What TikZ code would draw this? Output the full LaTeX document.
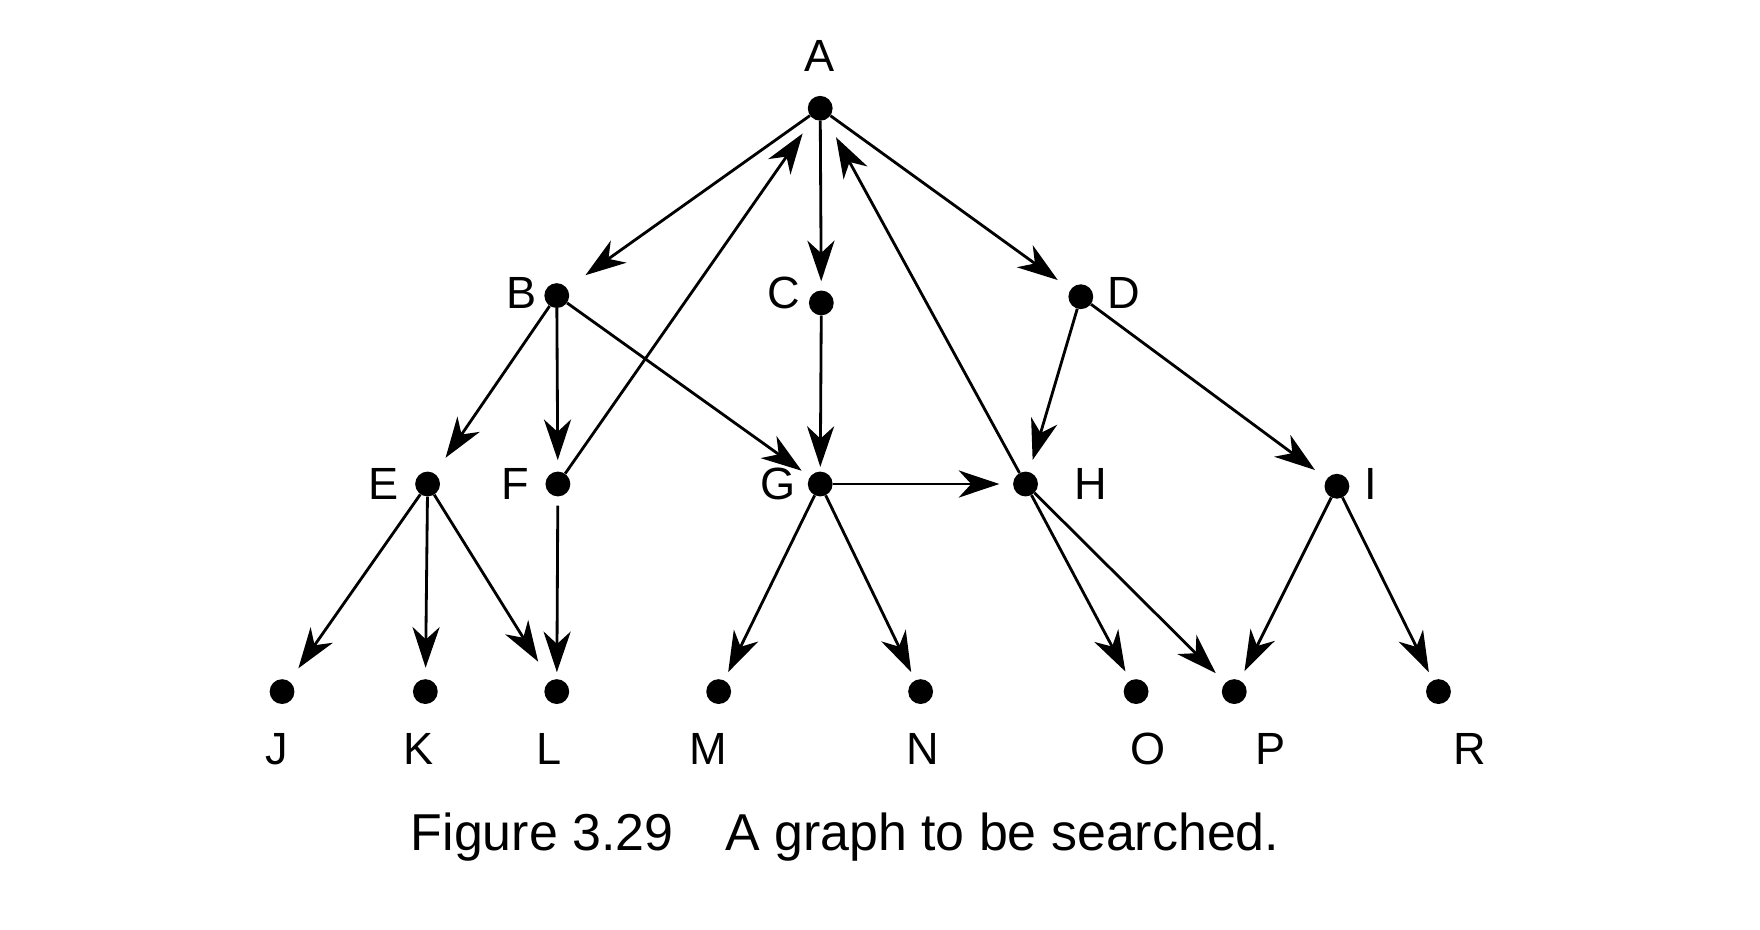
\documentclass[tikz,border=0pt]{standalone}
\usepackage{fontspec}
\setmainfont{Liberation Sans}
\usetikzlibrary{arrows.meta}
\tikzset{
  dot/.style={circle,fill=black,inner sep=0pt,minimum size=22pt},
  lab/.style={font=\fontsize{40}{40}\selectfont,anchor=base,inner sep=0pt},
  edge/.style={line width=2.5pt,-{Stealth[length=36pt,width=24pt,inset=11pt]}},
}
\begin{document}
\begin{tikzpicture}[x=1pt,y=-1pt]
\fill[white] (0,0) rectangle (1560,824.3);
\useasboundingbox (0,0) rectangle (1560,824.3);
% nodes
\node[dot] (A) at (727,96) {};
\node[dot] (B) at (493.5,262) {};
\node[dot] (C) at (728,268.5) {};
\node[dot] (D) at (958,263) {};
\node[dot] (E) at (379,429) {};
\node[dot] (F) at (494.5,429) {};
\node[dot] (G) at (727,429) {};
\node[dot] (H) at (909,429) {};
\node[dot] (I) at (1185,431) {};
\node[dot] (J) at (250,613) {};
\node[dot] (K) at (377,613) {};
\node[dot] (L) at (493.5,613) {};
\node[dot] (M) at (637,613) {};
\node[dot] (N) at (816,613) {};
\node[dot] (O) at (1007,613) {};
\node[dot] (P) at (1094,613) {};
\node[dot] (R) at (1275,613) {};
% labels
\node[lab] (lA) at (726,63.5) {A};
\node[lab] (lB) at (462,273) {B};
\node[lab] (lC) at (695,273) {C};
\node[lab] (lD) at (996,273) {D};
\node[lab] (lE) at (340,443) {E};
\node[lab] (lF) at (457,443) {F};
\node[lab] (lG) at (690,443) {G};
\node[lab] (lH) at (967,443) {H};
\node[lab] (lI) at (1215,443) {I};
\node[lab] (lJ) at (245,678) {J};
\node[lab] (lK) at (371,678) {K};
\node[lab] (lL) at (487,678) {L};
\node[lab] (lM) at (628,678) {M};
\node[lab] (lN) at (818,678) {N};
\node[lab] (lO) at (1018,678) {O};
\node[lab] (lP) at (1126,678) {P};
\node[lab] (lR) at (1303,678) {R};
% caption
\node[anchor=base west,inner sep=0pt,font=\fontsize{46}{46}\selectfont] (cap) at (364,754) {Figure 3.29\quad A graph to be searched.};
% edges
\draw[edge,shorten >=20pt] (A) -- (B);
\draw[edge,shorten >=8pt] (A) -- (C);
\draw[edge,shorten >=14pt] (A) -- (D);
\draw[edge,shorten >=16pt] (F) -- (A);
\draw[edge,shorten >=18pt] (H) -- (A);
\draw[edge,shorten >=17pt] (B) -- (E);
\draw[edge,shorten >=10pt] (B) -- (F);
\draw[edge,shorten >=9pt] (B) -- (G);
\draw[edge,shorten >=4pt] (C) -- (G);
\draw[edge,shorten >=11pt] (D) -- (H);
\draw[edge,shorten >=13pt] (D) -- (I);
\draw[edge,shorten >=12pt] (G) -- (H);
\draw[edge,shorten >=14pt] (E) -- (J);
\draw[edge,shorten >=10pt] (E) -- (K);
\draw[edge,shorten >=20pt] (E) -- (L);
\draw[edge,shorten >=6pt,shorten <=8pt] (F) -- (L);
\draw[edge,shorten >=8pt] (G) -- (M);
\draw[edge,shorten >=8pt] (G) -- (N);
\draw[edge,shorten >=9pt] (H) -- (O);
\draw[edge,shorten >=12pt] (H) -- (P);
\draw[edge,shorten >=9pt] (I) -- (P);
\draw[edge,shorten >=8pt] (I) -- (R);
\end{tikzpicture}
\end{document}
